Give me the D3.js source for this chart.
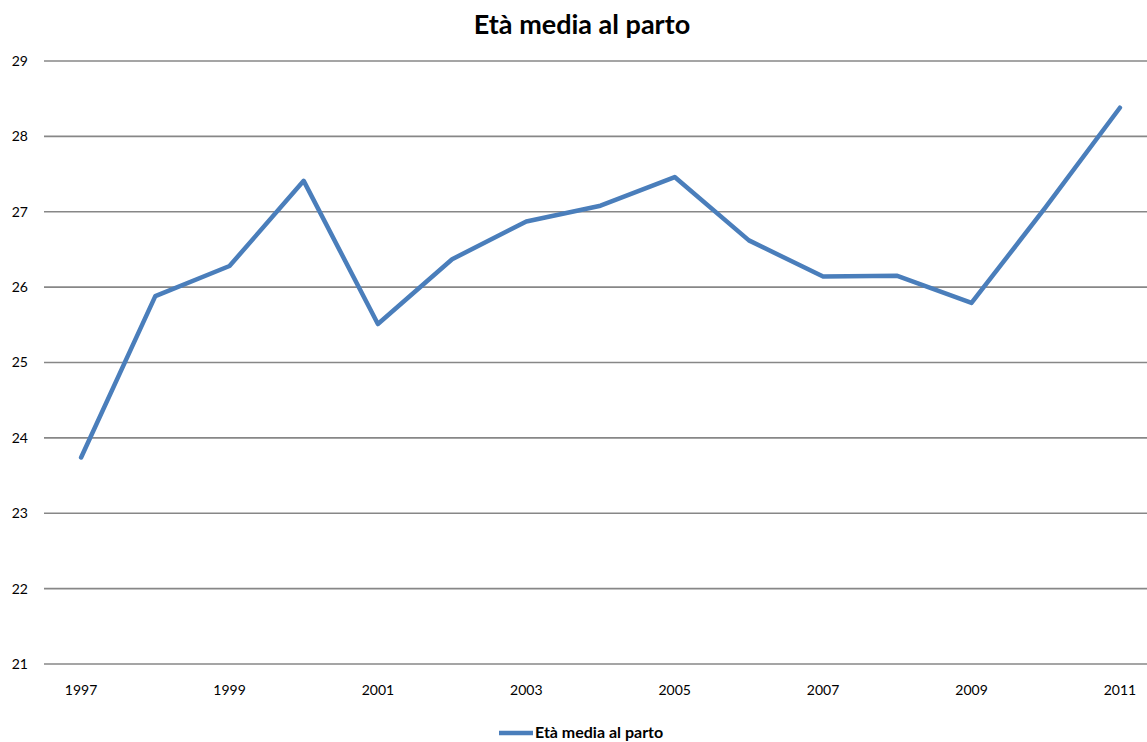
<!DOCTYPE html>
<html>
<head>
<meta charset="utf-8">
<script src="https://cdn.jsdelivr.net/npm/d3@7"></script>
<style>
  html, body { margin: 0; padding: 0; background: #fff; }
  svg { display: block; overflow: hidden; }
</style>
</head>
<body>
<svg id="chart" width="1147" height="742"></svg>
<script>
// Mean age at childbirth, by year
const years = [1997, 1998, 1999, 2000, 2001, 2002, 2003, 2004, 2005, 2006, 2007, 2008, 2009, 2010, 2011];
const etaMedia = [23.74, 25.88, 26.28, 27.41, 25.51, 26.37, 26.87, 27.08, 27.46, 26.62, 26.14, 26.15, 25.79, 27.06, 28.38];
const yTicks = [21, 22, 23, 24, 25, 26, 27, 28, 29];
const xTickLabels = [1997, 1999, 2001, 2003, 2005, 2007, 2009, 2011];
const seriesName = "Età media al parto";
const chartTitle = "Età media al parto";

const font = "Lato, 'Open Sans', sans-serif";
const lineColor = "#4a7ebb";
const gridColor = "#878787";

const svg = d3.select("#chart");
const margin = { left: 44, top: 61, bottom: 664 };
const plotWidth = 1113; // 15 bands of ~74.2px

const x = d3.scaleBand()
  .domain(years)
  .range([margin.left, margin.left + plotWidth]);

const y = d3.scaleLinear()
  .domain([21, 29])
  .range([margin.bottom, margin.top]);

// horizontal gridlines
svg.append("g")
  .selectAll("line")
  .data(yTicks)
  .join("line")
  .attr("x1", margin.left)
  .attr("x2", margin.left + plotWidth)
  .attr("y1", d => y(d))
  .attr("y2", d => y(d))
  .attr("stroke", gridColor)
  .attr("stroke-width", 1.7);

// y axis labels
const yAxis = d3.axisLeft(y).tickValues(yTicks).tickSize(0).tickPadding(16);
const yg = svg.append("g")
  .attr("transform", `translate(${margin.left},0)`)
  .call(yAxis);
yg.select(".domain").remove();
yg.selectAll("text")
  .attr("font-family", font)
  .attr("font-size", 14)
  .attr("fill", "#000");

// x axis labels
const xAxis = d3.axisBottom(x).tickValues(xTickLabels).tickSize(0).tickPadding(21);
const xg = svg.append("g")
  .attr("transform", `translate(0,${margin.bottom})`)
  .call(xAxis);
xg.select(".domain").remove();
xg.selectAll("text")
  .attr("font-family", font)
  .attr("font-size", 14)
  .attr("fill", "#000");

// series line
const line = d3.line()
  .x((d, i) => x(years[i]) + x.bandwidth() / 2)
  .y(d => y(d));

svg.append("path")
  .datum(etaMedia)
  .attr("d", line)
  .attr("fill", "none")
  .attr("stroke", lineColor)
  .attr("stroke-width", 4.5)
  .attr("stroke-linejoin", "round")
  .attr("stroke-linecap", "round");

// title
svg.append("text")
  .attr("x", 582)
  .attr("y", 34)
  .attr("text-anchor", "middle")
  .attr("font-family", font)
  .attr("font-weight", "bold")
  .attr("font-size", 27)
  .attr("fill", "#000")
  .text(chartTitle);

// legend
const legend = svg.append("g");
legend.append("line")
  .attr("x1", 499).attr("x2", 533)
  .attr("y1", 733).attr("y2", 733)
  .attr("stroke", lineColor)
  .attr("stroke-width", 4.5);
legend.append("text")
  .attr("x", 535)
  .attr("y", 737.5)
  .attr("font-family", font)
  .attr("font-weight", "bold")
  .attr("font-size", 16)
  .attr("fill", "#000")
  .text(seriesName);
</script>
</body>
</html>
